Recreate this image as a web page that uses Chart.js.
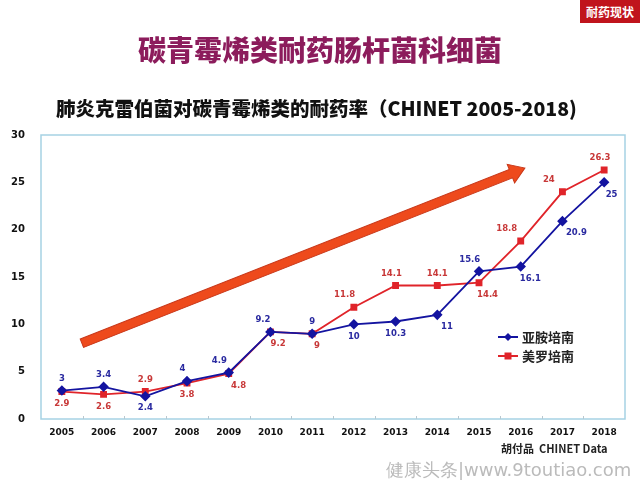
<!DOCTYPE html>
<html>
<head>
<meta charset="utf-8">
<script src="https://cdn.jsdelivr.net/npm/chart.js@4.4.1/dist/chart.umd.min.js"></script>
<style>
  body { margin: 0; background: #fff; }
  #wrap { position: relative; width: 640px; height: 480px; overflow: hidden; font-family: "Noto Sans CJK SC", sans-serif; }
  #chart { position: absolute; left: 0; top: 0; }
  .tag { position: absolute; right: 0; top: 0; width: 60px; height: 23px; background: #c0141c; color: #fff; font-size: 12px; font-weight: bold; line-height: 23px; text-align: center; }
  .title { position: absolute; left: 0; width: 640px; top: 29px; text-align: center; color: #8c1c5c; font-size: 28px; font-weight: 900; }
  .sub { position: absolute; left: 56px; top: 93px; color: #111; font-size: 19.5px; font-weight: 900; white-space: nowrap; }
  .src { position: absolute; left: 501px; top: 440px; color: #222; font-size: 11px; font-weight: bold; white-space: nowrap; }
  .wm { position: absolute; left: 386px; top: 458px; color: #bbb; font-size: 18px; font-family: "DejaVu Sans", sans-serif; white-space: nowrap; }
</style>
</head>
<body>
<div id="wrap">
  <canvas id="chart" width="640" height="480"></canvas>
  <div class="tag">耐药现状</div>
  <div class="title">碳青霉烯类耐药肠杆菌科细菌</div>
  <div class="sub">肺炎克雷伯菌对碳青霉烯类的耐药率（CHINET 2005-2018)</div>
  <div class="src">胡付品&nbsp; CHINET Data</div>
  <div class="wm">健康头条|www.9toutiao.com</div>
</div>
<script>
// resistance rates (%)
const years = ['2005','2006','2007','2008','2009','2010','2011','2012','2013','2014','2015','2016','2017','2018'];
const imipenem = [3, 3.4, 2.4, 4, 4.9, 9.2, 9, 10, 10.3, 11, 15.6, 16.1, 20.9, 25];
const meropenem = [2.9, 2.6, 2.9, 3.8, 4.8, 9.2, 9, 11.8, 14.1, 14.1, 14.4, 18.8, 24, 26.3];
const seriesNames = ['亚胺培南', '美罗培南'];
const yTicks = [0, 5, 10, 15, 20, 25, 30];
// trend arrow, in data units (category index, %)
const arrowFrom = [0.48, 8.0];
const arrowTo = [11.1, 26.5];

const BLUE = '#1414a0', RED = '#e0242a';
const tickFont = { family: 'DejaVu Sans', weight: 'bold', size: 9 };

const frame = {
  id: 'frame',
  beforeDatasetsDraw(chart) {
    const { ctx, chartArea: a, scales: { x, y } } = chart;
    ctx.save();
    ctx.strokeStyle = '#a6d2e4';
    ctx.lineWidth = 1.5;
    ctx.strokeRect(a.left, a.top, a.right - a.left, a.bottom - a.top);
    // small ticks between categories, inside the bottom edge
    ctx.strokeStyle = '#b8c8d0';
    ctx.lineWidth = 1;
    for (let i = 1; i < years.length; i++) {
      const px = Math.round(x.getPixelForValue(i - 0.5)) + 0.5;
      ctx.beginPath(); ctx.moveTo(px, a.bottom); ctx.lineTo(px, a.bottom - 3); ctx.stroke();
    }
    // trend arrow
    const x0 = x.getPixelForValue(arrowFrom[0]), y0 = y.getPixelForValue(arrowFrom[1]);
    const x1 = x.getPixelForValue(arrowTo[0]), y1 = y.getPixelForValue(arrowTo[1]);
    const ang = Math.atan2(y1 - y0, x1 - x0);
    const len = Math.hypot(x1 - x0, y1 - y0);
    const hw = 4.5, headW = 10, headL = 15;
    ctx.translate(x0, y0);
    ctx.rotate(ang);
    ctx.beginPath();
    ctx.moveTo(0, -hw);
    ctx.lineTo(len - headL, -hw);
    ctx.lineTo(len - headL, -headW);
    ctx.lineTo(len, 0);
    ctx.lineTo(len - headL, headW);
    ctx.lineTo(len - headL, hw);
    ctx.lineTo(0, hw);
    ctx.closePath();
    ctx.fillStyle = '#ee4a1c';
    ctx.fill();
    ctx.strokeStyle = '#c8381a';
    ctx.lineWidth = 1;
    ctx.stroke();
    ctx.restore();
  }
};

const valueLabels = {
  id: 'valueLabels',
  afterDatasetsDraw(chart) {
    const { ctx } = chart;
    const sets = [imipenem, meropenem];
    ctx.save();
    ctx.font = 'bold 8.5px "DejaVu Sans"';
    ctx.textAlign = 'center';
    ctx.textBaseline = 'middle';
    sets.forEach((vals, si) => {
      const other = sets[1 - si];
      const pts = chart.getDatasetMeta(si).data;
      ctx.fillStyle = si === 0 ? '#2a2aa0' : '#c83838';
      vals.forEach((v, i) => {
        const above = si === 0 ? v >= other[i] : v > other[i];
        const p = pts[i];
        // nudge the label sideways, away from the line
        let s = 0;
        if (i > 0) s += (pts[i - 1].y - p.y) / (p.x - pts[i - 1].x);
        if (i < pts.length - 1) s += (p.y - pts[i + 1].y) / (pts[i + 1].x - p.x);
        s /= 2;
        let dx = Math.max(-14, Math.min(14, s * 16));
        if (Math.abs(dx) < 4) dx = 0;
        const ly = above ? p.y - 12 : p.y + 12;
        const lx = above ? p.x - dx : p.x + dx;
        ctx.fillText(String(v), lx, ly);
      });
    });
    ctx.restore();
  }
};

const legendBox = {
  id: 'legendBox',
  afterDraw(chart) {
    const { ctx } = chart;
    ctx.save();
    chart.data.datasets.forEach((ds, i) => {
      const yy = 337 + i * 19;
      ctx.strokeStyle = ds.borderColor;
      ctx.lineWidth = 2;
      ctx.beginPath(); ctx.moveTo(498, yy); ctx.lineTo(518, yy); ctx.stroke();
      ctx.fillStyle = ds.borderColor;
      ctx.beginPath();
      if (ds.pointStyle === 'rectRot') {
        ctx.moveTo(508, yy - 4); ctx.lineTo(512, yy); ctx.lineTo(508, yy + 4); ctx.lineTo(504, yy);
      } else {
        ctx.rect(504.5, yy - 3.5, 7, 7);
      }
      ctx.fill();
      ctx.fillStyle = '#222';
      ctx.font = 'bold 13px "Noto Sans CJK SC"';
      ctx.textBaseline = 'middle';
      ctx.fillText(ds.label, 522, yy);
    });
    ctx.restore();
  }
};

new Chart(document.getElementById('chart').getContext('2d'), {
  type: 'line',
  data: {
    labels: years,
    datasets: [
      { label: seriesNames[0], data: imipenem, borderColor: BLUE, backgroundColor: BLUE, borderWidth: 1.8,
        pointStyle: 'rectRot', pointRadius: 4, pointBackgroundColor: BLUE, tension: 0 },
      { label: seriesNames[1], data: meropenem, borderColor: RED, backgroundColor: RED, borderWidth: 1.8,
        pointStyle: 'rect', pointRadius: 3.6, pointBackgroundColor: RED, tension: 0 }
    ]
  },
  options: {
    responsive: false,
    animation: false,
    layout: { padding: { top: 135, right: 15, bottom: 31, left: 0 } },
    plugins: { legend: { display: false }, tooltip: { enabled: false } },
    scales: {
      x: {
        offset: true,
        grid: { display: false },
        border: { display: false },
        ticks: { color: '#111', font: tickFont, padding: 0, maxRotation: 0 },
        afterFit(s) { s.height = 30; }
      },
      y: {
        min: 0, max: 30,
        grid: { display: false },
        border: { display: false },
        afterBuildTicks(s) { s.ticks = yTicks.map(v => ({ value: v })); },
        ticks: { color: '#111', font: { family: 'DejaVu Sans', weight: 'bold', size: 10 }, padding: 8 },
        afterFit(s) { s.width = 41; }
      }
    }
  },
  plugins: [frame, valueLabels, legendBox]
});
</script>
</body>
</html>
